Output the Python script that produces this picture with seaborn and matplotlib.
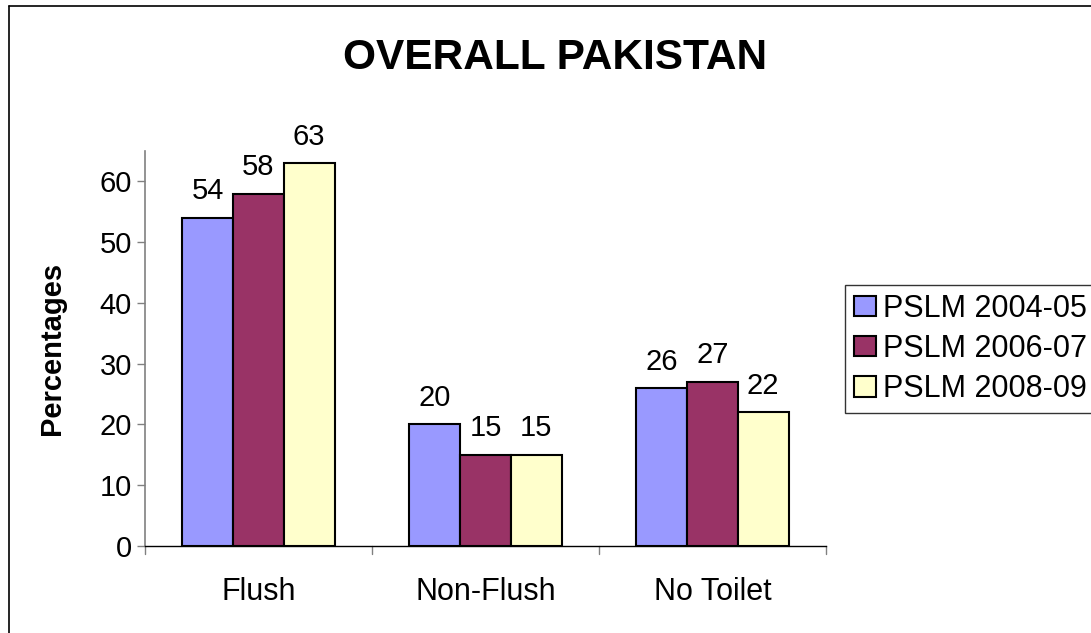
import pandas as pd
import matplotlib.pyplot as plt
import seaborn as sns
from matplotlib.lines import Line2D

# Data
categories = ['Flush', 'Non-Flush', 'No Toilet']
surveys = ['PSLM 2004-05', 'PSLM 2006-07', 'PSLM 2008-09']
pslm_2004_05 = [54, 20, 26]
pslm_2006_07 = [58, 15, 27]
pslm_2008_09 = [63, 15, 22]
colors = ['#9999FF', '#993366', '#FFFFCC']

df = pd.DataFrame({
    'Category': categories * 3,
    'Survey': [surveys[0]] * 3 + [surveys[1]] * 3 + [surveys[2]] * 3,
    'Value': pslm_2004_05 + pslm_2006_07 + pslm_2008_09,
})

sns.set_style('white')
plt.rcParams['font.family'] = ['Liberation Sans', 'DejaVu Sans']
plt.rcParams['text.color'] = 'black'
plt.rcParams['axes.labelcolor'] = 'black'
plt.rcParams['xtick.labelcolor'] = 'black'
plt.rcParams['ytick.labelcolor'] = 'black'

fig = plt.figure(figsize=(10.91, 6.33), dpi=100)
ax = fig.add_axes([145 / 1091, 87 / 633, 681 / 1091, 395 / 633])

sns.barplot(data=df, x='Category', y='Value', hue='Survey', order=categories,
            hue_order=surveys, palette=colors, width=0.67, edgecolor='black',
            linewidth=1.5, saturation=1, ax=ax)

for cont in ax.containers:
    ax.bar_label(cont, fmt='%d', padding=9, fontsize=21)

ax.set_ylim(0, 65)
ax.set_yticks(range(0, 61, 10))
ax.set_xlim(-0.5, 2.5)
ax.set_xlabel('')
ax.set_ylabel('Percentages', fontsize=21, fontweight='bold', labelpad=24)
ax.tick_params(axis='y', labelsize=21, length=6, width=1, color='#808080', left=True)
ax.tick_params(axis='x', labelsize=22, length=0, pad=22)

# category boundary ticks on x axis
for xb in [-0.5, 0.5, 1.5, 2.5]:
    ax.add_line(Line2D([xb, xb], [0, -1.3], color='#808080', lw=1, clip_on=False))

for side in ['top', 'right']:
    ax.spines[side].set_visible(False)
ax.spines['left'].set_color('#808080')
ax.spines['bottom'].set_color('black')
ax.spines['left'].set_linewidth(1.2)
ax.spines['bottom'].set_linewidth(1)

fig.text(0.509, 0.908, 'OVERALL PAKISTAN', ha='center', va='center',
         fontsize=30.5, fontweight='bold')

leg = ax.legend(loc='center left', bbox_to_anchor=(845 / 1091, (633 - 349) / 633),
                bbox_transform=fig.transFigure, fontsize=22, frameon=True,
                fancybox=False, edgecolor='black', handlelength=0.72,
                handleheight=0.65, handletextpad=0.23, borderpad=0.3,
                labelspacing=0.33, borderaxespad=0)
leg.get_frame().set_linewidth(1)

# chart border
fig.add_artist(Line2D([9 / 1091, 9 / 1091], [0, 1 - 6 / 633], color='black',
                      lw=1.2, transform=fig.transFigure))
fig.add_artist(Line2D([9 / 1091, 1], [1 - 6 / 633, 1 - 6 / 633], color='black',
                      lw=1.2, transform=fig.transFigure))

plt.savefig('out.png', dpi=100)
